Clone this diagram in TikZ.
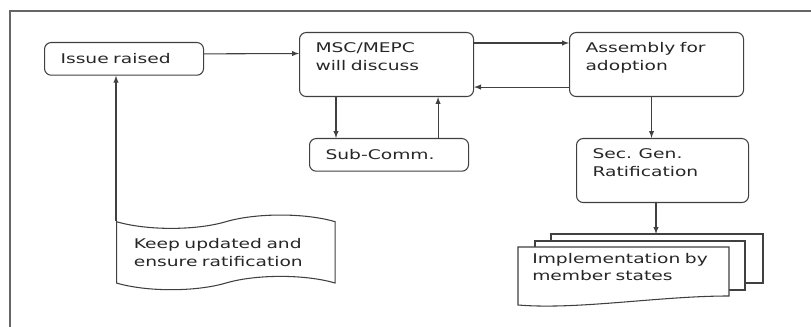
\documentclass[tikz,border=0pt]{standalone}
\usepackage{fontspec}
\setmainfont{DejaVu Sans}[FakeStretch=1.4]
\usepackage{tikz}
\usetikzlibrary{shapes}
\usetikzlibrary{shapes.symbols}
\usetikzlibrary{arrows}
\usetikzlibrary{calc}
\tikzstyle{box}=[
        draw=black!75,
        line width=0.8pt,
        rounded corners=5pt,
        anchor=north west,
        align=left,
        inner xsep=12pt,
        inner ysep=8pt,
        text height=7.3pt,
        text depth=24.7pt
]
\tikzstyle{onebox}=[draw=black!75,line width=0.8pt,rounded corners=5pt,anchor=north west,align=left,inner xsep=12pt,minimum height=24.5pt]
\tikzstyle{flag}=[tape,draw=black!75,line width=0.8pt,anchor=north west,align=left,inner xsep=12pt,text width=138pt,tape bend height=10pt,minimum width=164pt,minimum height=56pt]
\tikzstyle{doctext}=[anchor=north west,align=left,inner xsep=10.5pt,inner ysep=4.5pt,text width=137pt]
\tikzstyle{sheet}=[draw=black!75,line width=0.8pt,fill=white]
\tikzstyle{frame}=[draw=black!60,line width=1.2pt]
\tikzstyle{suite}=[->,>=latex,draw=black!75,line width=0.8pt]

\begin{document}
\begin{tikzpicture}[x=0.75pt,y=-0.75pt,font=\fontsize{10}{13}\selectfont,text=black!85]
\useasboundingbox (0,0) rectangle (811,327);
\draw[frame] (811,11) -- (10,11) -- (10,327);
\node[onebox,text width=95.25pt] (issue) at (44,42) {Issue raised};
\node[box,text width=106.5pt] (msc) at (299,32) {MSC/MEPC\\will discuss};
\node[box,text width=106.5pt] (assembly) at (569,32) {Assembly for\\adoption};
\node[onebox,text width=95.25pt] (sub) at (309,138) {Sub-Comm.};
\node[box,text width=105pt] (secgen) at (576,138) {Sec. Gen.\\Ratification};
\node[flag] (keep) at (116,221) {Keep updated and\\ensure ratification};
%Drawing the stack of sheets
\coordinate (sheet) at (656,234);
\draw[sheet] ($(sheet)+(-105,0)$) rectangle +(212,49);
\draw[sheet] ($(sheet)+(-121,7)$) rectangle +(210,49);
\coordinate (doc) at (518,247);
\draw[sheet] (doc) -- ++(211,0) -- ++(0,49)
        .. controls +(-70,0) and +(60,5) .. ++(-211,9) -- cycle;
\node[doctext] (impl) at (doc) {Implementation by\\member states};
%Drawing Edges
\draw[suite] ([yshift=3.75pt]issue.east) -- ([yshift=8.25pt]msc.west);
\draw[suite] ([yshift=-8.25pt]msc.north east) -- ([yshift=-8.25pt]assembly.north west);
\draw[suite] ([yshift=7.5pt]assembly.south west) -- ([yshift=7.5pt]msc.south east);
\draw[suite] ([xshift=27.75pt]msc.south west) -- ([xshift=27.75pt]msc.south west |- sub.north);
\draw[suite] ([xshift=-27pt]msc.south east |- sub.north) -- ([xshift=-27pt]msc.south east);
\draw[suite] ([xshift=-3.75pt]assembly.south) -- ([xshift=-3.75pt]assembly.south |- secgen.north);
\draw[suite] (secgen.south -| sheet) -- (sheet);
\draw[suite] (keep.north west) -- (keep.north west |- issue.south);
\end{tikzpicture}
\end{document}
